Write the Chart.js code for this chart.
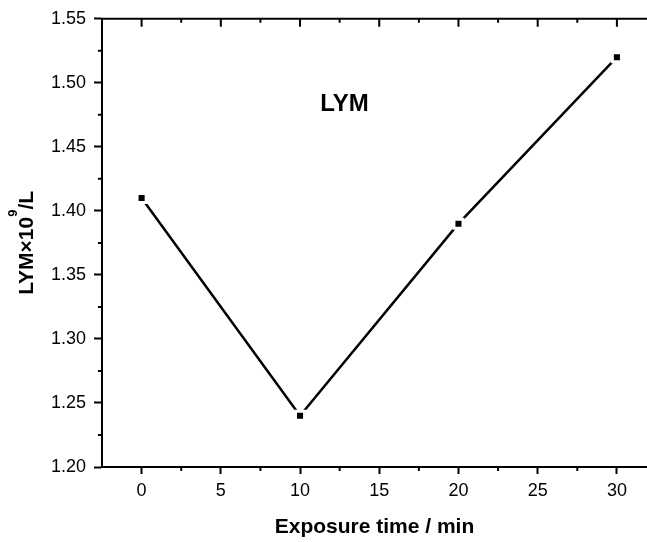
<!DOCTYPE html>
<html>
<head>
<meta charset="utf-8">
<script src="https://cdn.jsdelivr.net/npm/chart.js@4"></script>
<style>
    body { margin: 0; background: #fff; }
    #wrap { width: 647px; height: 542px; }
</style>
</head>
<body>
<div id="wrap"><canvas id="myChart"></canvas></div>
<script>
const exposureTimes = [0, 10, 20, 30];
const lymValues = [1.41, 1.24, 1.39, 1.52];
const xTickValues = [0, 5, 10, 15, 20, 25, 30];
const yTickValues = [1.20, 1.25, 1.30, 1.35, 1.40, 1.45, 1.50, 1.55];
const plotLabel = 'LYM';
const xTitle = 'Exposure time / min';
const yTitleParts = ['LYM×10', '9', '/L'];

const fontFamily = '"Liberation Sans", Arial, sans-serif';
const points = exposureTimes.map((t, i) => ({ x: t, y: lymValues[i] }));

// the big white squares (line gaps) should not pad the plot area
Chart.registry.getController('line').prototype.getMaxOverflow = function () { return 0; };

// top frame line, inward top ticks, minor ticks, in-plot label and y title with superscript
const frameTicks = {
    id: 'frameTicks',
    afterDraw(chart) {
        const { ctx, chartArea: area, scales: { x, y } } = chart;
        ctx.save();
        ctx.strokeStyle = '#000';
        ctx.lineWidth = 2;
        ctx.beginPath();
        ctx.moveTo(area.left - 1, area.top);
        ctx.lineTo(area.right, area.top);
        xTickValues.forEach(v => {
            const px = x.getPixelForValue(v);
            ctx.moveTo(px, area.top);
            ctx.lineTo(px, area.top + 8);
        });
        for (let i = 0; i < xTickValues.length - 1; i++) {
            const px = x.getPixelForValue((xTickValues[i] + xTickValues[i + 1]) / 2);
            ctx.moveTo(px, area.top);
            ctx.lineTo(px, area.top + 4);
            ctx.moveTo(px, area.bottom);
            ctx.lineTo(px, area.bottom + 4);
        }
        for (let i = 0; i < yTickValues.length - 1; i++) {
            const py = y.getPixelForValue((yTickValues[i] + yTickValues[i + 1]) / 2);
            ctx.moveTo(area.left, py);
            ctx.lineTo(area.left - 4, py);
        }
        ctx.stroke();

        ctx.fillStyle = '#000';
        ctx.font = 'bold 24px ' + fontFamily;
        ctx.textAlign = 'center';
        ctx.textBaseline = 'middle';
        ctx.fillText(plotLabel, x.getPixelForValue(12.8), y.getPixelForValue(1.483));

        // y axis title, rotated, with a real superscript
        const mainFont = 'bold 21px ' + fontFamily;
        const supFont = 'bold 13px ' + fontFamily;
        ctx.font = mainFont;
        const w0 = ctx.measureText(yTitleParts[0]).width;
        const w2 = ctx.measureText(yTitleParts[2]).width;
        ctx.font = supFont;
        const w1 = ctx.measureText(yTitleParts[1]).width;
        const total = w0 + w1 + w2;
        ctx.translate(33, (area.top + area.bottom) / 2);
        ctx.rotate(-Math.PI / 2);
        ctx.textAlign = 'left';
        ctx.textBaseline = 'alphabetic';
        let pos = -total / 2;
        ctx.font = mainFont;
        ctx.fillText(yTitleParts[0], pos, 0);
        pos += w0;
        ctx.font = supFont;
        ctx.fillText(yTitleParts[1], pos, -16);
        pos += w1;
        ctx.font = mainFont;
        ctx.fillText(yTitleParts[2], pos, 0);
        ctx.restore();
    }
};

Chart.defaults.color = '#000';
Chart.defaults.font.family = fontFamily;

const ctx = document.getElementById('myChart').getContext('2d');
const myChart = new Chart(ctx, {
    type: 'line',
    data: {
        datasets: [{
                label: 'markers',
                data: points,
                showLine: false,
                pointStyle: 'rect',
                pointRadius: 4.3,
                pointBackgroundColor: '#000',
                pointBorderWidth: 0,
                order: 0
            },
            {
                label: 'LYM',
                data: points,
                borderColor: '#000',
                borderWidth: 2.5,
                pointStyle: 'rect',
                pointRadius: 8.5,
                pointBackgroundColor: '#fff',
                pointBorderWidth: 0,
                order: 1
            }
        ]
    },
    options: {
        responsive: true,
        maintainAspectRatio: false,
        animation: false,
        events: [],
        layout: { padding: { top: 15, right: 0, left: 0, bottom: 0 } },
        plugins: {
            legend: { display: false },
            tooltip: { enabled: false }
        },
        scales: {
            x: {
                type: 'linear',
                min: -2.5,
                max: 31.9,
                afterBuildTicks: scale => {
                    scale.ticks = xTickValues.map(v => ({ value: v }));
                },
                afterFit: scale => {
                    scale.height = 75;
                    scale.paddingLeft = 0;
                    scale.paddingRight = 0;
                },
                ticks: {
                    font: { size: 18 },
                    padding: 6,
                    maxRotation: 0
                },
                grid: {
                    drawOnChartArea: false,
                    tickLength: 7,
                    tickWidth: 2,
                    tickColor: '#000'
                },
                border: { display: true, color: '#000', width: 2 },
                title: {
                    display: true,
                    text: xTitle,
                    font: { size: 21, weight: 'bold' },
                    padding: { top: 0, bottom: 2 }
                }
            },
            y: {
                min: 1.2,
                max: 1.55,
                afterBuildTicks: scale => {
                    scale.ticks = yTickValues.map(v => ({ value: v }));
                },
                afterFit: scale => { scale.width = 102; },
                ticks: {
                    font: { size: 18 },
                    padding: 8,
                    callback: v => v.toFixed(2)
                },
                grid: {
                    drawOnChartArea: false,
                    tickLength: 8,
                    tickWidth: 2,
                    tickColor: '#000'
                },
                border: { display: true, color: '#000', width: 2 }
            }
        }
    },
    plugins: [frameTicks]
});
</script>
</body>
</html>
